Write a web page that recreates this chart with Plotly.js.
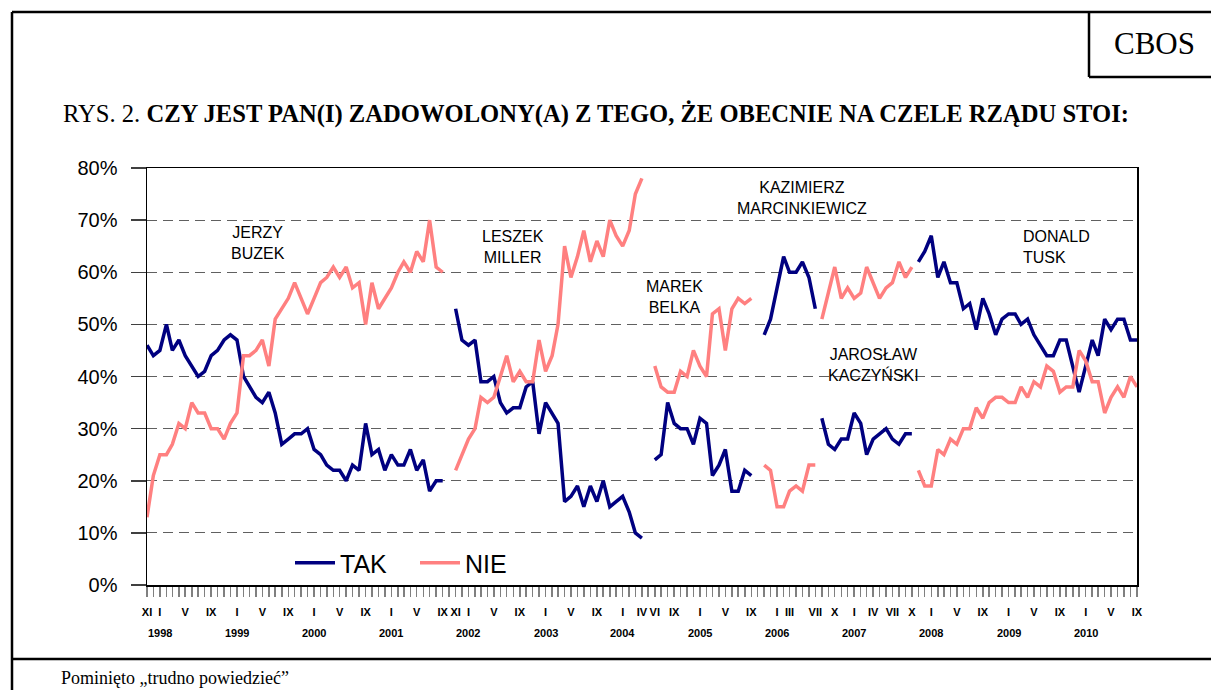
<!DOCTYPE html>
<html>
<head>
<meta charset="utf-8">
<script src="https://cdn.plot.ly/plotly-3.0.1.min.js"></script>
<style>
html,body{margin:0;padding:0;background:#fff;}
#chart{width:1211px;height:690px;}
</style>
</head>
<body>
<div id="chart"></div>
<script>
// ---- data (percent), monthly CBOS surveys per government ----
const buzekStart = '1997-11';
const buzekTak = [46,44,45,50,45,47,44,42,40,41,44,45,47,48,47,40,38,36,35,37,33,27,28,29,29,30,26,25,23,22,22,20,23,22,31,25,26,22,25,23,23,26,22,24,18,20,20];
const buzekNie = [13,21,25,25,27,31,30,35,33,33,30,30,28,31,33,44,44,45,47,42,51,53,55,58,55,52,55,58,59,61,59,61,57,58,50,58,53,55,57,60,62,60,64,62,70,61,60];

const millerStart = '2001-11';
const millerTak = [53,47,46,47,39,39,40,35,33,34,34,38,39,29,35,33,31,16,17,19,15,19,16,20,15,16,17,14,10,9];
const millerNie = [22,25,28,30,36,35,36,40,44,39,41,39,39,47,41,44,50,65,59,63,68,62,66,63,70,67,65,68,75,78];

const belkaStart = '2004-06';
const belkaTak = [24,25,35,31,30,30,27,32,31,21,23,26,18,18,22,21];
const belkaNie = [42,38,37,37,41,40,45,42,40,52,53,45,53,55,54,55];

const marcStart = '2005-11';
const marcTak = [48,51,57,63,60,60,62,59,53];
const marcNie = [23,22,15,15,18,19,18,23,23];

const kaczStart = '2006-08';
const kaczTak = [32,27,26,28,28,33,31,25,28,29,30,28,27,29,29];
const kaczNie = [51,56,61,55,57,55,56,61,58,55,57,58,62,59,61];

const tuskStart = '2007-11';
const tuskTak = [62,64,67,59,62,58,58,53,54,49,55,52,48,51,52,52,50,51,48,46,44,44,47,47,42,37,42,47,44,51,49,51,51,47,47];
const tuskNie = [22,19,19,26,25,28,27,30,30,34,32,35,36,36,35,35,38,36,39,38,42,41,37,38,38,45,43,39,39,33,36,38,36,40,38];

const tickMonths = ['1997-11','1998-01','1998-05','1998-09','1999-01','1999-05','1999-09','2000-01','2000-05','2000-09',
  '2001-01','2001-05','2001-09','2001-11','2002-01','2002-05','2002-09','2003-01','2003-05','2003-09',
  '2004-01','2004-04','2004-06','2004-09','2005-01','2005-05','2005-09','2006-01','2006-03','2006-07','2006-10',
  '2007-01','2007-04','2007-07','2007-10','2008-01','2008-05','2008-09','2009-01','2009-05','2009-09','2010-01','2010-05','2010-09'];
const tickLabels = ['XI','I','V','IX','I','V','IX','I','V','IX',
  'I','V','IX','XI','I','V','IX','I','V','IX',
  'I','IV','VI','IX','I','V','IX','I','III','VII','X',
  'I','IV','VII','X','I','V','IX','I','V','IX','I','V','IX'];
const years = ['1998','1999','2000','2001','2002','2003','2004','2005','2006','2007','2008','2009','2010'];

const govLabels = ['JERZY<br>BUZEK','LESZEK<br>MILLER','MAREK<br>BELKA','KAZIMIERZ<br>MARCINKIEWICZ','JAROSŁAW<br>KACZYŃSKI','DONALD<br>TUSK'];

// ---- helpers ----
function monthSeq(start, n){
  let [y,m] = start.split('-').map(Number);
  const out = [];
  for(let i=0;i<n;i++){
    out.push(y+'-'+String(m).padStart(2,'0')+'-01');
    m++; if(m>12){m=1;y++;}
  }
  return out;
}
const L=147, R=1137, T=168, B=585, W=R-L, H=B-T;
const px = x => (x-L)/W;
const py = y => (B-y)/H;

const BLUE = '#000080', PINK = '#FF8080';
const govs = [
  [buzekStart, buzekTak, buzekNie],
  [millerStart, millerTak, millerNie],
  [belkaStart, belkaTak, belkaNie],
  [marcStart, marcTak, marcNie],
  [kaczStart, kaczTak, kaczNie],
  [tuskStart, tuskTak, tuskNie]
];
const traces = [];
govs.forEach((g,k)=>{
  const xs = monthSeq(g[0], g[1].length);
  traces.push({x:xs, y:g[1], type:'scatter', mode:'lines', name:'TAK', legendgroup:'tak',
    showlegend:k===0, line:{color:BLUE, width:3.5}, hoverinfo:'x+y'});
});
govs.forEach((g,k)=>{
  const xs = monthSeq(g[0], g[2].length);
  traces.push({x:xs, y:g[2], type:'scatter', mode:'lines', name:'NIE', legendgroup:'nie',
    showlegend:k===0, line:{color:PINK, width:3.5}, hoverinfo:'x+y'});
});

const annFont = {family:'Liberation Sans, Arial, sans-serif', size:16, color:'#000'};
const govPos = [[258,243,'center'],[513,247,'center'],[674,297,'center'],[802,198,'center'],[873,365,'center'],[1021,247,'left']];
const annotations = govLabels.map((t,i)=>({text:t, xref:'paper', yref:'paper', x:px(govPos[i][0]), y:py(govPos[i][1]),
  xanchor:govPos[i][2], yanchor:'middle', align:govPos[i][2], showarrow:false, font:annFont}));

years.forEach(yr=>{
  annotations.push({text:'<b>'+yr+'</b>', xref:'x', yref:'paper', x:yr+'-01-01', y:py(633), xanchor:'center', yanchor:'middle',
    showarrow:false, font:{family:'Liberation Sans, Arial, sans-serif', size:11, color:'#000'}});
});

annotations.push({text:'RYS. 2. <b>CZY JEST PAN(I) ZADOWOLONY(A) Z TEGO, ŻE OBECNIE NA CZELE RZĄDU STOI:</b>',
  xref:'paper', yref:'paper', x:px(61), y:py(114), xanchor:'left', yanchor:'middle', showarrow:false,
  font:{family:'Liberation Serif, Times New Roman, serif', size:24.6, color:'#000'}});
annotations.push({text:'CBOS', xref:'paper', yref:'paper', x:px(1154), y:py(43), xanchor:'center', yanchor:'middle', showarrow:false,
  font:{family:'Liberation Serif, Times New Roman, serif', size:31, color:'#000'}});
annotations.push({text:'Pominięto „trudno powiedzieć”', xref:'paper', yref:'paper', x:px(59), y:py(678), xanchor:'left', yanchor:'middle', showarrow:false,
  font:{family:'Liberation Serif, Times New Roman, serif', size:18, color:'#000'}});

const lineSt = {color:'#000', width:2.5};
const shapes = [
  {type:'line', xref:'paper', yref:'paper', x0:px(12), x1:px(1212), y0:py(12), y1:py(12), line:lineSt},
  {type:'line', xref:'paper', yref:'paper', x0:px(12), x1:px(12), y0:py(12), y1:py(692), line:lineSt},
  {type:'line', xref:'paper', yref:'paper', x0:px(1089), x1:px(1089), y0:py(12), y1:py(77), line:lineSt},
  {type:'line', xref:'paper', yref:'paper', x0:px(1089), x1:px(1212), y0:py(77), y1:py(77), line:lineSt},
  {type:'line', xref:'paper', yref:'paper', x0:px(12), x1:px(1212), y0:py(659), y1:py(659), line:lineSt}
];

const layout = {
  width:1211, height:690,
  margin:{l:L, r:1211-R, t:T, b:690-B, pad:0},
  paper_bgcolor:'#fff', plot_bgcolor:'#fff',
  font:{family:'Liberation Sans, Arial, sans-serif', color:'#000'},
  showlegend:true,
  legend:{orientation:'h', x:px(290), y:py(563), xanchor:'left', yanchor:'middle', bgcolor:'rgba(0,0,0,0)',
    font:{size:25, family:'Liberation Sans, Arial, sans-serif', color:'#000'}, itemwidth:40, traceorder:'normal',
    entrywidth:70, entrywidthmode:'pixels'},
  xaxis:{type:'date', range:['1997-11-01','2010-09-01'], showgrid:false, zeroline:false,
    showline:true, linecolor:'#000', linewidth:1.5, mirror:true,
    tickmode:'array', tickvals:tickMonths.map(m=>m+'-01'), ticktext:tickLabels,
    ticks:'outside', ticklen:10, tickcolor:'#808080', tickwidth:1.5, ticklabelstandoff:6,
    tickfont:{size:11, family:'Liberation Sans, Arial, sans-serif', color:'#000', weight:'bold'},
    minor:{ticks:'outside', ticklen:10, dtick:'M1', tick0:'1997-11-01', tickcolor:'#808080', tickwidth:1.5, showgrid:false},
    fixedrange:true},
  yaxis:{range:[0,80], dtick:10, ticksuffix:'%', showgrid:true, gridcolor:'#606060', gridwidth:1, griddash:'10px,6px',
    zeroline:false, showline:true, linecolor:'#000', linewidth:1.5, mirror:true,
    ticks:'outside', ticklen:15, tickcolor:'#404040', tickwidth:1.5, ticklabelstandoff:9,
    tickfont:{size:20, family:'Liberation Sans, Arial, sans-serif', color:'#000'}, fixedrange:true},
  annotations:annotations,
  shapes:shapes
};

Plotly.newPlot('chart', traces, layout, {displayModeBar:false, staticPlot:true});
</script>
</body>
</html>
